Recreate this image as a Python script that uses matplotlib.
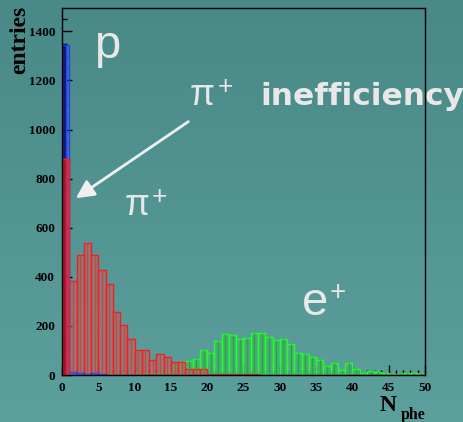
import numpy as np
import matplotlib
matplotlib.use("Agg")
import matplotlib.pyplot as plt
from matplotlib.ticker import MultipleLocator

# number of photoelectrons, 1-phe bins from 0 to 50
bin_edges = np.arange(0, 51)

proton_counts = [1346, 13, 7, 5, 7, 3, 2, 1, 1, 1] + [0] * 40

pion_counts = [880, 383, 487, 536, 487, 426, 370, 255, 205, 147,
               100, 103, 60, 84, 73, 53, 53, 23, 23, 23,
               4, 4, 4, 3, 3, 3, 3, 2, 2, 2,
               2, 2, 2, 2, 2, 1, 1, 1, 1, 1,
               1, 1, 1, 1, 1, 1, 1, 1, 1, 1]

positron_counts = [8, 3, 3, 3, 3, 3, 3, 3, 3, 3,
                   3, 8, 10, 10, 18, 37, 47, 57, 66, 100,
                   88, 137, 167, 161, 145, 150, 170, 172, 155, 141,
                   145, 125, 88, 85, 75, 60, 37, 47, 22, 47,
                   23, 10, 15, 12, 7, 4, 4, 7, 7, 3]

x_ticks = [0, 5, 10, 15, 20, 25, 30, 35, 40, 45, 50]
y_ticks = [0, 200, 400, 600, 800, 1000, 1200, 1400]

W, H = 464, 422
fig = plt.figure(figsize=(W / 100, H / 100), dpi=100)

# teal background, a bit darker at the top
bg = fig.add_axes([0, 0, 1, 1], zorder=-10)
top = np.array([73, 137, 135]) / 255
bot = np.array([92, 160, 158]) / 255
t = np.linspace(0, 1, 256)[:, None]
grad = top[None, None, :] * (1 - t[..., None]) + bot[None, None, :] * t[..., None]
bg.imshow(np.repeat(grad, 4, axis=1), aspect="auto", extent=[0, 1, 0, 1])
bg.axis("off")

ax = fig.add_axes([62 / W, 47 / H, (425 - 62) / W, (414 - 47) / H])
ax.set_facecolor("none")


def draw_hist(counts, edge, inner, face, first_fill=None):
    left = bin_edges[:-1]
    ax.bar(left, counts, width=1.0, align="edge", color=face,
           edgecolor=edge, linewidth=1.0, zorder=3)
    # half-bin sub-structure inside each bin
    ax.vlines(left + 0.5, 0, counts, color=inner, linewidth=1.0, zorder=3.5)
    if first_fill is not None:
        ax.bar([0], [counts[0]], width=0.5, align="edge", color=first_fill,
               edgecolor=edge, linewidth=1.0, zorder=3.6)


draw_hist(positron_counts, "#22ff22", "#1fb02f", (0.25, 0.75, 0.35, 0.35))
draw_hist(pion_counts, "#ff1a1a", "#c04a4a", (0.70, 0.40, 0.40, 0.6))
draw_hist(proton_counts, "#2040ff", "#3050d0", (0.2, 0.3, 0.6, 0.3),
          first_fill="#14147a")
# red bar drawn over the blue one in the first bin
ax.bar([0], [pion_counts[0]], width=0.5, align="edge", color="#a0123a",
       edgecolor="#ff1a1a", linewidth=1.0, zorder=4)
ax.bar([0], [pion_counts[0]], width=1.0, align="edge", color="none",
       edgecolor="#ff1a1a", linewidth=1.0, zorder=4)

ax.set_xlim(0, 50)
ax.set_ylim(0, 1495)
ax.set_xticks(x_ticks)
ax.set_yticks(y_ticks)
ax.xaxis.set_minor_locator(MultipleLocator(1))
ax.yaxis.set_minor_locator(MultipleLocator(50))
ax.tick_params(which="both", direction="in", top=False, right=False,
               color="black", width=1.0, zorder=10)
ax.tick_params(which="major", length=7, pad=5)
ax.tick_params(which="minor", length=3.5)
for sp in ax.spines.values():
    sp.set_color("black")
    sp.set_linewidth(1.0)
    sp.set_zorder(10)

for lab in ax.get_xticklabels() + ax.get_yticklabels():
    lab.set_fontfamily("Liberation Serif")
    lab.set_fontweight("bold")
    lab.set_fontsize(9.5)

fig.text(20 / W, 1 - 6 / H, "entries", rotation=90, ha="center", va="top",
         family="Liberation Serif", weight="bold", size=17)
fig.text(380 / W, 1 - 411 / H, "N", ha="left", va="baseline",
         family="Liberation Serif", weight="bold", size=17)
fig.text(401 / W, 1 - 419 / H, "phe", ha="left", va="baseline",
         family="Liberation Serif", weight="bold", size=11.5)

label_color = "#e8e8e8"


def particle(x, y, base, size, sup_dx, sup_dy, sup_size):
    ax.text(x, y, base, color=label_color, size=size, family="Liberation Sans",
            ha="left", va="baseline", zorder=6, clip_on=False)
    ax.text(x + sup_dx, y + sup_dy, "+", color=label_color, size=sup_size,
            family="Liberation Sans", ha="left", va="baseline", zorder=6,
            clip_on=False)


ax.text(4.4, 1290, "p", color=label_color, size=34, family="Liberation Sans",
        ha="left", va="baseline", zorder=6)
particle(17.6, 1099, "π", 26, 3.8, 45, 19)
ax.text(27.3, 1099, "inefficiency", color=label_color, size=22.5,
        family="DejaVu Sans", weight="bold", ha="left", va="baseline",
        zorder=6, clip_on=False)
particle(8.6, 651, "π", 26, 3.8, 45, 19)
particle(33.0, 244, "e", 34, 3.9, 60, 20)

ax.annotate("", xy=(1.9, 720), xytext=(17.4, 1032),
            arrowprops=dict(arrowstyle="-|>,head_length=1.1,head_width=0.55",
                            color="#f0f0f0", lw=2.0, shrinkA=0, shrinkB=0),
            zorder=7)

fig.savefig("out.png", dpi=100)
